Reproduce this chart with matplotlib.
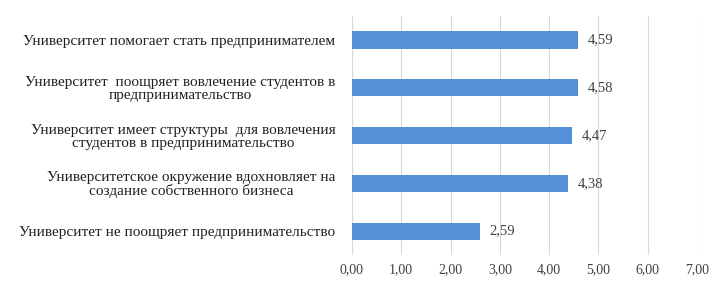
import matplotlib.pyplot as plt

# данные (снизу вверх, как на диаграмме)
categories = [
    "Университет не поощряет предпринимательство",
    "Университетское окружение вдохновляет на\nсоздание собственного бизнеса",
    "Университет имеет структуры  для вовлечения\nстудентов в предпринимательство",
    "Университет  поощряет вовлечение студентов в\nпредпринимательство",
    "Университет помогает стать предпринимателем",
]
values = [2.59, 4.38, 4.47, 4.58, 4.59]
xticks = [0, 1, 2, 3, 4, 5, 6, 7]

plt.rcParams["font.family"] = ["Liberation Serif", "DejaVu Serif"]

fig = plt.figure(figsize=(7.16, 2.81), dpi=100)
ax = fig.add_axes([0.4916, 0.0925, 0.4819, 0.8505])

y = list(range(len(categories)))
ax.barh(y, values, height=0.36, color="#5390d8", zorder=3)

for yi, v in zip(y, values):
    ax.annotate(f"{v:.2f}".replace(".", ","), (v, yi), xytext=(7, 0),
                textcoords="offset points", va="center", ha="left",
                fontsize=10.5, color="#404040")

ax.set_xlim(0, 7)
ax.set_ylim(-0.5, len(categories) - 0.5)
ax.set_xticks(xticks)
ax.set_xticklabels([f"{t:.2f}".replace(".", ",") for t in xticks],
                   fontsize=10, color="#404040")
ax.set_yticks(y)
ax.set_yticklabels(categories, fontsize=11, color="#202020",
                   multialignment="center", linespacing=1.0)
ax.tick_params(axis="y", length=0, pad=12)
ax.tick_params(axis="x", length=0, pad=6)
ax.xaxis.grid(True, color="#d9d9d9", linewidth=0.8, zorder=0)
for s in ax.spines.values():
    s.set_visible(False)

fig.savefig("out.png", dpi=100)
